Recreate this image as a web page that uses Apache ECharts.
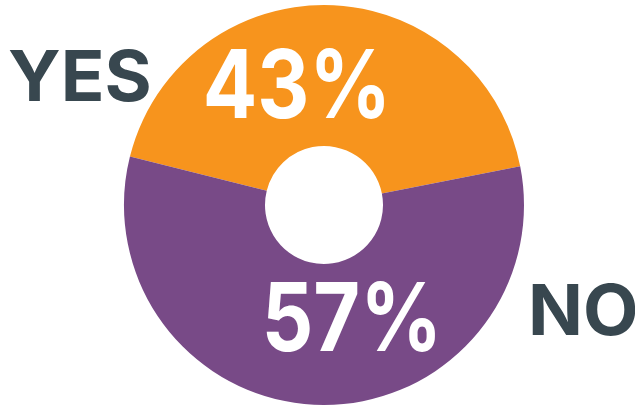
<!DOCTYPE html>
<html>
<head>
<meta charset="utf-8">
<script src="https://cdn.jsdelivr.net/npm/echarts@6/dist/echarts.min.js"></script>
<style>
html,body{margin:0;padding:0;background:#fff;}
#c{width:635px;height:409px;}
</style>
</head>
<body>
<div id="c"></div>
<script>
var categories = ['YES', 'NO'];
var values = [43, 57];
var colors = ['#F7941D', '#784A87'];

var chart = echarts.init(document.getElementById('c'), null, {renderer: 'canvas'});
var font = 'Inter, "Open Sans", sans-serif';
var total = values.reduce(function (a, b) { return a + b; }, 0);
function pct(i) { return Math.round(values[i] / total * 100) + '%'; }

chart.setOption({
  animation: false,
  series: [{
    type: 'pie',
    z: 1,
    center: [324, 205],
    radius: [59, 200],
    startAngle: 166,
    clockwise: true,
    label: {show: false},
    labelLine: {show: false},
    emphasis: {disabled: true},
    itemStyle: {borderWidth: 0},
    data: categories.map(function (c, i) {
      return {name: c, value: values[i], itemStyle: {color: colors[i]}};
    })
  }],
  graphic: {
    elements: [
      {type: 'text', z: 100, x: 8, y: 80, scaleX: 1.03, style: {text: categories[0], fill: '#38474F', font: 'bold 70px ' + font, align: 'left', verticalAlign: 'middle'}},
      {type: 'text', z: 100, x: 297, y: 89, scaleX: 0.85, style: {text: pct(0), fill: '#ffffff', font: 'bold 95px ' + font, align: 'center', verticalAlign: 'middle'}},
      {type: 'text', z: 100, x: 352, y: 322, scaleX: 0.85, style: {text: pct(1), fill: '#ffffff', font: 'bold 95px ' + font, align: 'center', verticalAlign: 'middle'}},
      {type: 'text', z: 100, x: 528, y: 314, scaleX: 1.03, style: {text: categories[1], fill: '#38474F', font: 'bold 70px ' + font, align: 'left', verticalAlign: 'middle'}}
    ]
  }
});
</script>
</body>
</html>
